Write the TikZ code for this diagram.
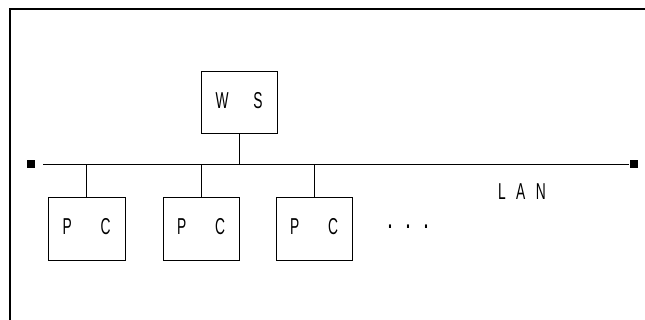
\documentclass[tikz,border=0pt]{standalone}
\usepackage{fontspec}
\newfontfamily\condfont[FakeStretch=0.6]{Liberation Sans}
\begin{document}
\begin{tikzpicture}[x=1pt,y=-1pt,
  line width=0.9pt,
  box/.style={draw,line width=0.9pt,rectangle,inner sep=0pt,minimum width=76pt,minimum height=62pt,font=\condfont\fontsize{23}{23}\selectfont},
  lbl/.style={font=\condfont\fontsize{23}{23}\selectfont,inner sep=0pt},
  term/.style={fill=black,minimum size=8pt,inner sep=0pt,rectangle}]
\useasboundingbox (0,0) rectangle (645,320);
% frame
\draw[line width=1.1pt] (10,320) -- (10,9) -- (645,9);
% workstation
\node[box] (ws) at (239,102) {\raisebox{4pt}{\makebox[47pt]{W\hfill S}}};
% PCs
\node[box,minimum width=77pt,minimum height=63pt] (pc1) at (86.5,228.5) {\raisebox{5pt}{\makebox[48pt]{P\hfill C}}};
\node[box,minimum width=76pt,minimum height=63pt] (pc2) at (201,228.5) {\raisebox{5pt}{\makebox[48pt]{P\hfill C}}};
\node[box,minimum width=76pt,minimum height=63pt] (pc3) at (314,228.5) {\raisebox{5pt}{\makebox[48pt]{P\hfill C}}};
% LAN terminators and bus
\node[term] (tl) at (30.5,164.5) {};
\node[term] (tr) at (633.5,164.5) {};
\coordinate (bl) at (43,164);
\coordinate (br) at (tr.west);
\draw (bl) -- (br |- bl);
\draw (ws.south) -- (ws.south |- bl);
\draw (pc1.north) -- (pc1.north |- bl);
\draw (pc2.north) -- (pc2.north |- bl);
\draw (pc3.north) -- (pc3.north |- bl);
% labels
\node[lbl] (lan) at (522,192) {L\hspace{10.5pt}A\hspace{10.5pt}N};
\node[lbl,font=\condfont\bfseries\fontsize{24}{24}\selectfont] (dots) at (408,227) {.\hspace{14pt}.\hspace{14pt}.};
\end{tikzpicture}
\end{document}
